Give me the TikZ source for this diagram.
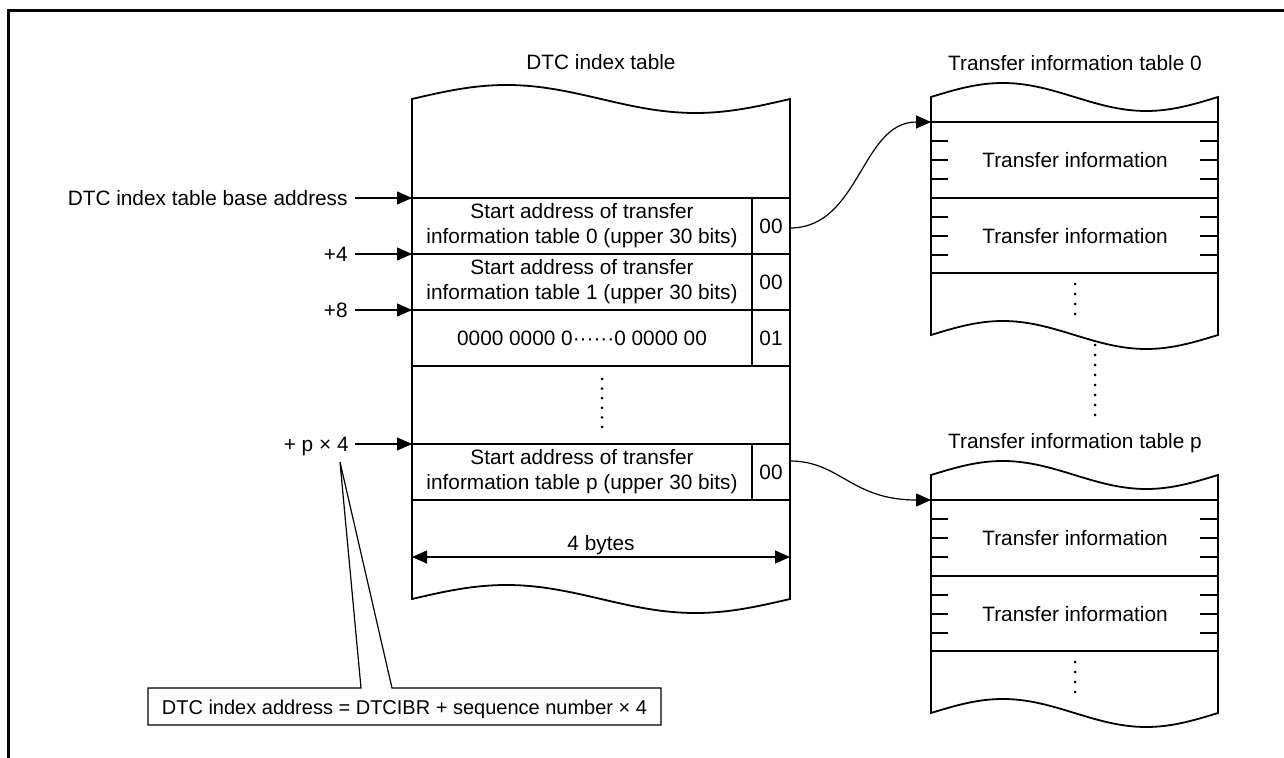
\documentclass[tikz,border=0pt]{standalone}
\usepackage{fontspec}
\setmainfont{Liberation Sans}
\usetikzlibrary{arrows.meta, positioning, calc}

\begin{document}
\begin{tikzpicture}[x=0.5pt, y=-0.5pt, font=\fontsize{10.4}{12.6}\selectfont,
    >={Triangle[length=7.5pt, width=6.5pt]},
    tline/.style={line width=0.9pt},
    iline/.style={line width=0.75pt},
    conn/.style={line width=0.6pt},
    lbl/.style={inner sep=0pt, text height=7.5pt, text depth=0pt},
    cellbox/.style={draw, tline, inner sep=0pt, outer sep=0pt, align=center, minimum height=28pt},
    wide/.style={minimum width=170pt},
    narrow/.style={minimum width=19pt}]

  \useasboundingbox (0,0) rectangle (1284,758);

  % ---- Outer frame ----
  \draw[line width=1.5pt] (8.5,758) -- (8.5,10.5) -- (1284,10.5);

  % ---- DTC index table ----
  \node[lbl] (idxtitle) at (601,62) {DTC index table};
  \draw[tline] (412,99) sin (506.5,85) cos (601,99) sin (695.5,113) cos (790,99)
    -- (790,599) sin (695.5,613) cos (601,599) sin (506.5,585) cos (412,599) -- cycle;

  \node[cellbox, wide] (row0) at (582,226) {Start address of transfer\\information table 0 (upper 30 bits)};
  \node[cellbox, narrow, right=0pt of row0] (bit0) {00};
  \node[cellbox, wide, below=0pt of row0] (row1) {Start address of transfer\\information table 1 (upper 30 bits)};
  \node[cellbox, narrow, right=0pt of row1] (bit1) {00};
  \node[cellbox, wide, below=0pt of row1] (row2) {0000 0000 0······0 0000 00};
  \node[cellbox, narrow, right=0pt of row2] (bit2) {01};
  \node[cellbox, wide] (rowp) at (582,472) {Start address of transfer\\information table p (upper 30 bits)};
  \node[cellbox, narrow, right=0pt of rowp] (bitp) {00};

  % dots for the skipped entries
  \foreach \k in {0,...,5}
    \fill (602,{379+9.6*\k}) circle (0.75pt);

  % ---- Entry width ----
  \coordinate (wl) at (412,557);
  \coordinate (wr) at (790,557);
  \draw[conn,<->] (wl) -- (wr);
  \node[lbl] (bytes) at (601,543) {4 bytes};

  % ---- Offset labels ----
  \node[lbl, anchor=east] (lbase) at (348,198) {DTC index table base address};
  \node[lbl, anchor=east] (l4) at (348,254) {+4};
  \node[lbl, anchor=east] (l8) at (348,310) {+8};
  \node[lbl, anchor=east] (lp) at (349,444) {+ p × 4};
  \draw[conn,->] ([xshift=3.5pt]lbase.east) -- (row0.north west);
  \draw[conn,->] ([xshift=3.5pt]l4.east) -- (row1.north west);
  \draw[conn,->] ([xshift=3.5pt]l8.east) -- (row2.north west);
  \draw[conn,->] ([xshift=3pt]lp.east) -- (rowp.north west);

  % ---- Callout ----
  \node[lbl, font=\fontsize{10}{12}\selectfont] (cnote) at (404.5,706.5) {DTC index address = DTCIBR + sequence number × 4};
  \coordinate (ctip) at (340,462);
  \draw[conn] (148,688) -- (361,688) -- (ctip) -- (392,688) -- (661,688)
    -- (661,725) -- (148,725) -- cycle;

  % ---- Transfer information tables ----
  \def\infotable#1#2#3{ % #1 top line y, #2 name, #3 title
    \node[lbl] (#2title) at (1075,{#1-59}) {#3};
    \draw[tline] (931,{#1-25}) sin (1002.75,{#1-39}) cos (1074.5,{#1-25}) sin (1146.25,{#1-11}) cos (1218,{#1-25})
      -- (1218,{#1+213}) sin (1146.25,{#1+227}) cos (1074.5,{#1+213}) sin (1002.75,{#1+199}) cos (931,{#1+213}) -- cycle;
    \draw[iline] (931,#1) -- (1218,#1) (931,{#1+76}) -- (1218,{#1+76}) (931,{#1+151}) -- (1218,{#1+151});
    \foreach \tk in {19,38,57,95,114,133} {
      \draw[conn] (931,{#1+\tk}) -- +(17,0);
      \draw[conn] (1218,{#1+\tk}) -- +(-18,0);
    }
    \node[lbl] (#2a) at (1075,{#1+38}) {Transfer information};
    \node[lbl] (#2b) at (1075,{#1+114}) {Transfer information};
    \foreach \k in {0,...,3}
      \fill (1075,{#1+162+10*\k}) circle (0.75pt);
    \coordinate (#2in) at (931,#1);
  }

  \infotable{122}{tz}{Transfer information table 0}
  \infotable{500}{tp}{Transfer information table p}

  % dots between the two tables
  \foreach \k in {0,...,7}
    \fill (1095,{345+10*\k}) circle (0.75pt);

  % ---- Pointers ----
  \draw[conn,->] ($(bit0.east)+(0,2)$) .. controls +(70,0) and +(-70,0) .. (tzin);
  \draw[conn,->] ($(bitp.east)+(0,-11)$) .. controls +(50,0) and +(-80,0) .. (tpin);

\end{tikzpicture}
\end{document}
